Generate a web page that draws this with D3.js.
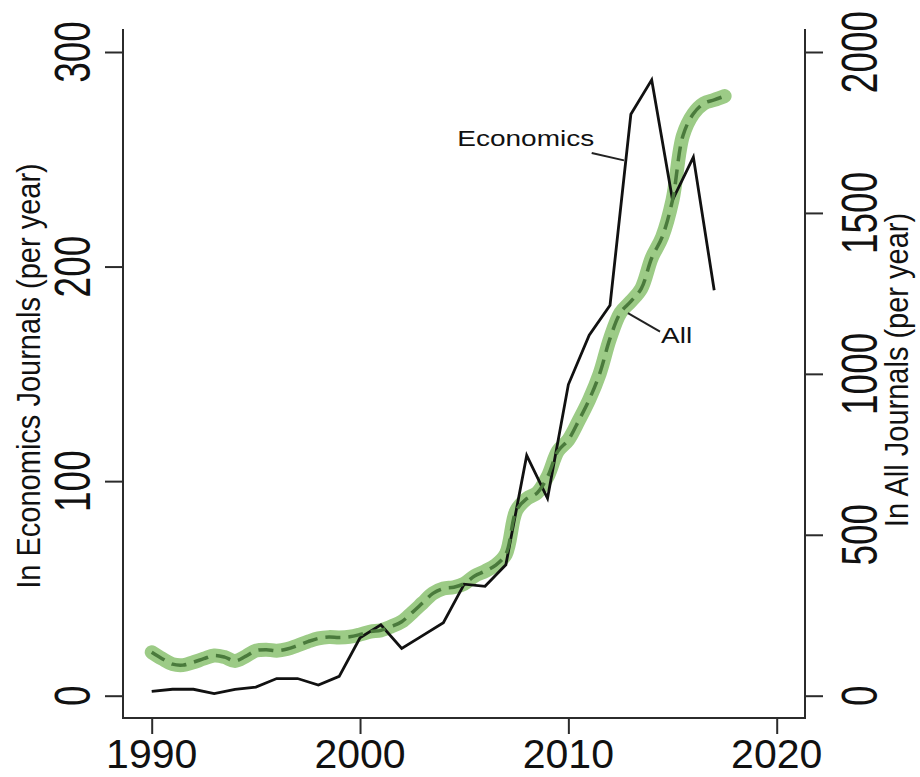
<!DOCTYPE html>
<html>
<head>
<meta charset="utf-8">
<script src="https://cdn.jsdelivr.net/npm/d3@7"></script>
<style>
  html, body { margin: 0; padding: 0; background: #fff; }
  svg { display: block; }
  text { font-family: "Liberation Sans", Arial, sans-serif; fill: #111; }
</style>
</head>
<body>
<svg id="chart" width="920" height="777"></svg>
<script>
// Articles per year in economics journals (left axis)
const years = [1990,1991,1992,1993,1994,1995,1996,1997,1998,1999,
               2000,2001,2002,2003,2004,2005,2006,2007,2008,2009,
               2010,2011,2012,2013,2014,2015,2016,2017];
const economics = [2,3,3,1,3,4,8,8,5,9,
                   27,33,22,28,34,52,51,61,112,92,
                   145,168,182,271,287,231,251,189];

// Articles per year in all journals (right axis), half-year readings
const allTimes = [1990,1990.5,1991,1991.5,1992,1992.5,1993,1993.5,1994,1994.5,
                  1995,1995.5,1996,1996.5,1997,1997.5,1998,1998.5,1999,1999.5,
                  2000,2000.5,2001,2001.5,2002,2002.5,2003,2003.5,2004,2004.5,
                  2005,2005.5,2006,2006.5,2007,2007.5,2008,2008.5,2009,2009.5,
                  2010,2010.5,2011,2011.5,2012,2012.5,2013,2013.5,2014,2014.5,
                  2015,2015.5,2016,2016.5,2017,2017.5];
const allValues = [135,115,98,95,104,115,125,120,108,122,
                   140,143,140,145,156,168,178,182,181,183,
                   190,199,203,215,230,258,288,318,333,337,
                   348,372,387,405,440,575,612,630,680,760,
                   795,855,920,1000,1110,1190,1225,1265,1360,1425,
                   1540,1740,1808,1840,1851,1863];

// Tick values
const xTicks = [1990, 2000, 2010, 2020];
const leftTicks = [0, 100, 200, 300];
const rightTicks = [0, 500, 1000, 1500, 2000];

// Axis titles and series labels
const leftTitle = "In Economics Journals (per year)";
const rightTitle = "In All Journals (per year)";
const econLabel = "Economics";
const allLabel = "All";

const svg = d3.select("#chart");

// Plot frame
const frame = { left: 123, right: 805, top: 29, bottom: 718 };

const x = d3.scaleLinear().domain([1990, 2020]).range([151.7, 776.7]);
const yL = d3.scaleLinear().domain([0, 300]).range([695.7, 52]);
const yR = d3.scaleLinear().domain([0, 2000]).range([695.7, 52]);

const axisColor = "#2b2b2b";

// Open-topped frame: left, bottom, right
svg.append("path")
  .attr("d", `M${frame.left},${frame.top}V${frame.bottom}H${frame.right}V${frame.top}`)
  .attr("fill", "none").attr("stroke", axisColor).attr("stroke-width", 2);

// Axes via d3 axis generators (domain path hidden; frame drawn above)
const leftAxis = svg.append("g").attr("transform", `translate(${frame.left},0)`)
  .call(d3.axisLeft(yL).tickValues(leftTicks).tickSize(18).tickFormat(""));
const rightAxis = svg.append("g").attr("transform", `translate(${frame.right},0)`)
  .call(d3.axisRight(yR).tickValues(rightTicks).tickSize(18).tickFormat(""));
const bottomAxis = svg.append("g").attr("transform", `translate(0,${frame.bottom + 1})`)
  .call(d3.axisBottom(x).tickValues(xTicks).tickSize(15).tickFormat(""));
[leftAxis, rightAxis, bottomAxis].forEach(g => {
  g.select(".domain").remove();
  g.selectAll(".tick line").attr("stroke", axisColor).attr("stroke-width", 2);
});

// Rotated tick labels (upright along the axis, stretched across)
const tickFont = 37, tickStretch = 1.33;
svg.append("g").selectAll("text").data(leftTicks).join("text")
  .attr("transform", d => `translate(90,${yL(d)}) rotate(-90) scale(1,${tickStretch})`)
  .attr("text-anchor", "middle")
  .style("font-size", tickFont + "px")
  .text(d => d);
svg.append("g").selectAll("text").data(rightTicks).join("text")
  .attr("transform", d => `translate(877,${yR(d)}) rotate(-90) scale(1,${tickStretch})`)
  .attr("text-anchor", "middle")
  .style("font-size", tickFont + "px")
  .text(d => d);

// Year labels
svg.append("g").selectAll("text").data(xTicks).join("text")
  .attr("x", d => x(d)).attr("y", 768)
  .attr("text-anchor", "middle")
  .style("font-size", "41px")
  .text(d => d);

// Axis titles
const titleFont = 29, titleStretch = 1.15;
svg.append("text")
  .attr("transform", `translate(40,376) rotate(-90) scale(1,${titleStretch})`)
  .attr("text-anchor", "middle")
  .style("font-size", titleFont + "px")
  .text(leftTitle);
svg.append("text")
  .attr("transform", `translate(908,370) rotate(-90) scale(1,${titleStretch})`)
  .attr("text-anchor", "middle")
  .style("font-size", titleFont + "px")
  .text(rightTitle);

// All journals: wide light-green band
const allData = allTimes.map((t, i) => ({ t, v: allValues[i] }));
const allLine = d3.line().x(d => x(d.t)).y(d => yR(d.v)).curve(d3.curveCatmullRom.alpha(0.5));
svg.append("path")
  .datum(allData)
  .attr("d", allLine)
  .attr("fill", "none")
  .attr("stroke", "#9ccb86")
  .attr("stroke-width", 14)
  .attr("stroke-linecap", "round")
  .attr("stroke-linejoin", "round");

// Economics journals: black line
const econData = years.map((yr, i) => ({ yr, v: economics[i] }));
svg.append("path")
  .datum(econData)
  .attr("d", d3.line().x(d => x(d.yr)).y(d => yL(d.v)))
  .attr("fill", "none")
  .attr("stroke", "#111")
  .attr("stroke-width", 2.8)
  .attr("stroke-linejoin", "miter");

// All journals: dashed dark-green centre line
svg.append("path")
  .datum(allData)
  .attr("d", allLine)
  .attr("fill", "none")
  .attr("stroke", "#4a7a3c")
  .attr("stroke-width", 3.5)
  .attr("stroke-dasharray", "15,8");

// Series labels with leader lines (positions in data units)
const labelFont = 28, labelSquash = 0.76;
const econLeader = [[2011.12, 252.9], [2012.67, 249.5]];
svg.append("line")
  .attr("x1", x(econLeader[0][0])).attr("y1", yL(econLeader[0][1]))
  .attr("x2", x(econLeader[1][0])).attr("y2", yL(econLeader[1][1]))
  .attr("stroke", "#222").attr("stroke-width", 2);
svg.append("text")
  .attr("transform", `translate(${x(2004.67)},${yL(256.3)}) scale(1,${labelSquash})`)
  .style("font-size", labelFont + "px")
  .text(econLabel);

const allLeader = [[2012.86, 1189], [2014.4, 1131]];
svg.append("line")
  .attr("x1", x(allLeader[0][0])).attr("y1", yR(allLeader[0][1]))
  .attr("x2", x(allLeader[1][0])).attr("y2", yR(allLeader[1][1]))
  .attr("stroke", "#222").attr("stroke-width", 2);
svg.append("text")
  .attr("transform", `translate(${x(2014.45)},${yR(1096)}) scale(1,${labelSquash})`)
  .style("font-size", labelFont + "px")
  .text(allLabel);
</script>
</body>
</html>
